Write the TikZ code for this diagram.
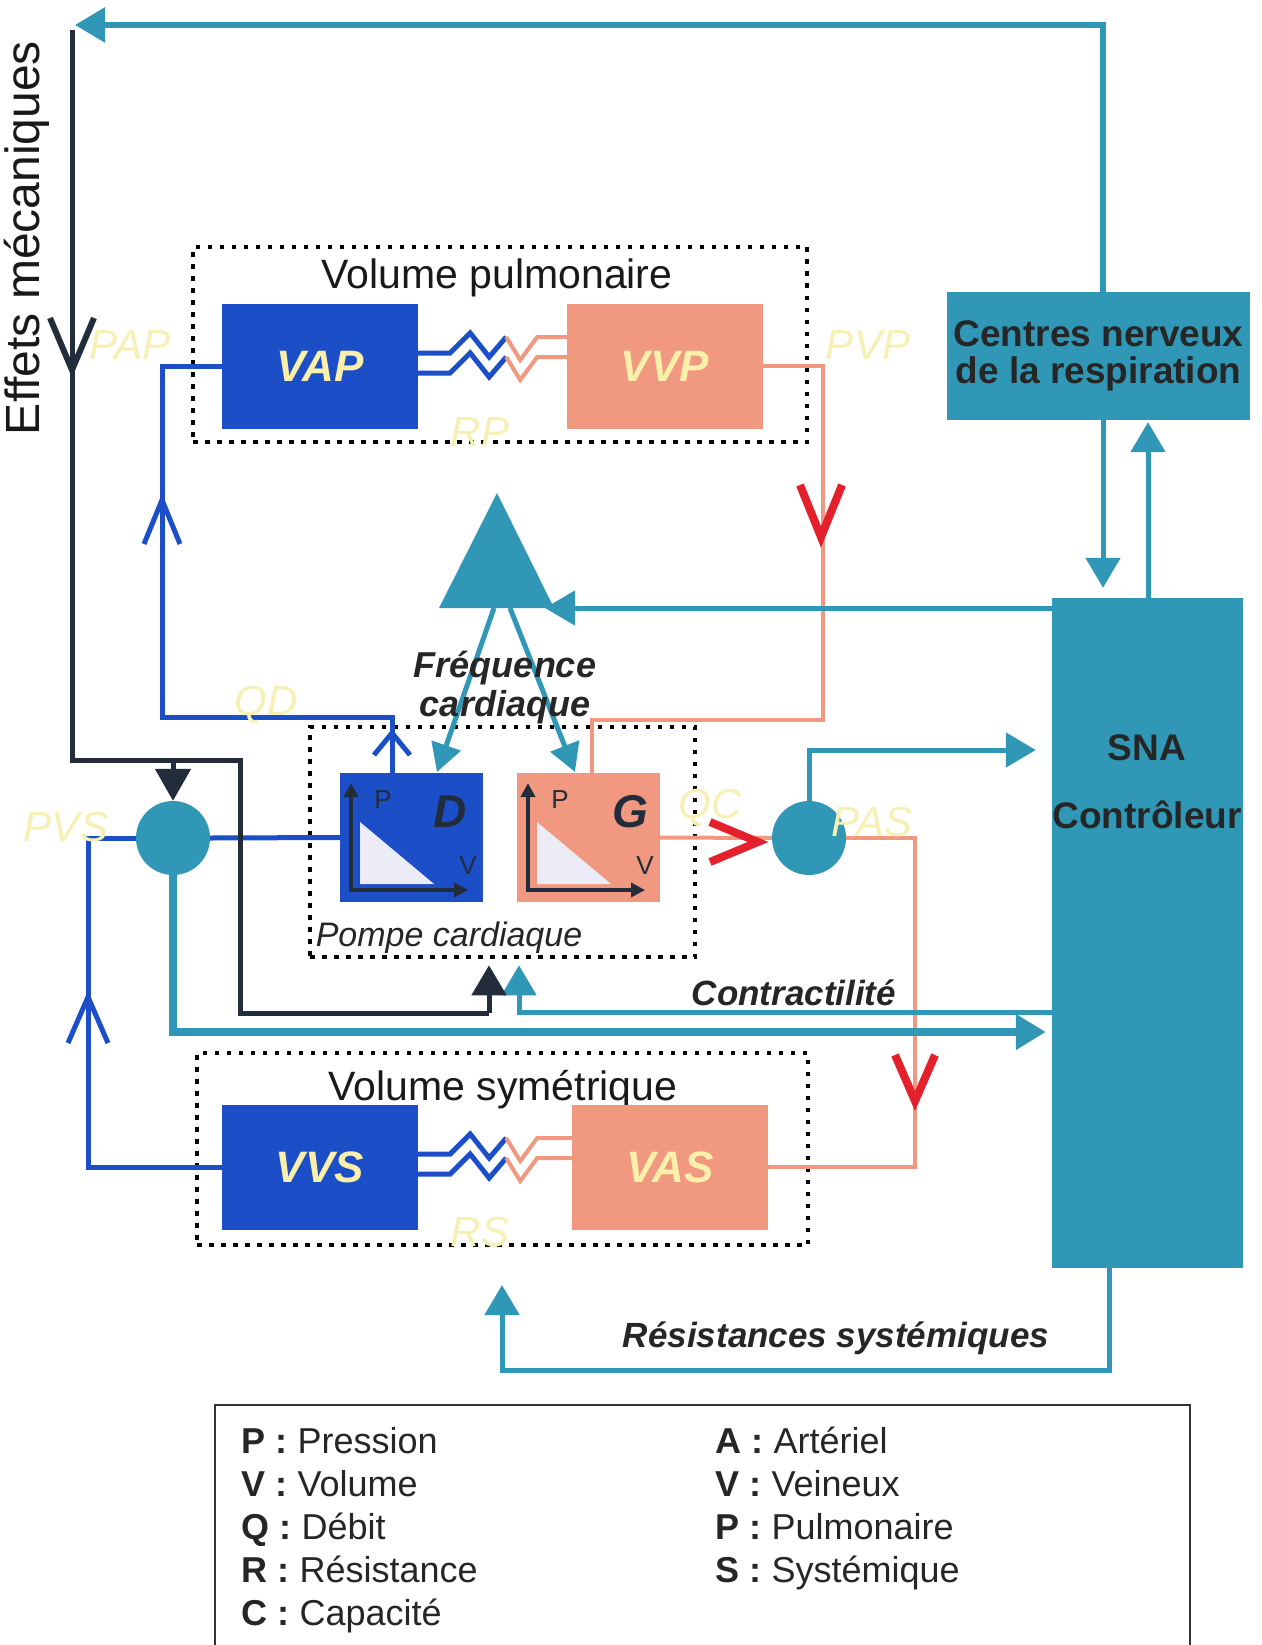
\documentclass[tikz,border=0pt]{standalone}
\usepackage{fontspec}
\setmainfont{Liberation Sans}
\usepackage{tikz}
\usetikzlibrary{arrows.meta,positioning,calc}

\definecolor{veinblue}{RGB}{28,78,200}
\definecolor{artsalmon}{RGB}{240,152,128}
\definecolor{nervecyan}{RGB}{48,152,182}
\definecolor{mechdark}{RGB}{34,44,58}
\definecolor{valvered}{RGB}{228,32,44}
\definecolor{palelabel}{RGB}{246,240,180}
\definecolor{boxtext}{RGB}{250,240,170}
\definecolor{pvwhite}{RGB}{236,236,246}

\newcommand{\fs}[1]{\fontsize{#1}{#1}\selectfont}
% open chevrons drawn on the pipes
\newcommand{\chevdown}[4]{\draw[#1] ($(#2)+(-#3,-#4)$) -- ($(#2)+(0,#4)$) -- ($(#2)+(#3,-#4)$);}
\newcommand{\chevup}[4]{\draw[#1] ($(#2)+(-#3,#4)$) -- ($(#2)+(0,-#4)$) -- ($(#2)+(#3,#4)$);}
\newcommand{\chevright}[4]{\draw[#1] ($(#2)+(-#4,-#3)$) -- ($(#2)+(#4,0)$) -- ($(#2)+(-#4,#3)$);}
% two zigzag resistances between a blue and a salmon box
\newcommand{\resistor}[3]{%
  \draw[bluepipe] ($(#1.east)+(0,#3)$) -- ++(32,0) -- ++(20,-20) -- ++(19,24) -- ++(17,-20) coordinate (zz);
  \draw[redpipe] (zz) -- ++(14,23) -- ++(17,-23) -- ($(#2.west)+(0,#3-16)$);}

\tikzset{
  volbox/.style={rectangle, inner sep=0pt, minimum width=196pt, minimum height=125pt,
    text=boxtext, font=\fs{44}\bfseries\itshape},
  pvbox/.style={rectangle, inner sep=0pt, minimum width=143pt, minimum height=129pt},
  dotbox/.style={draw=black, line width=4.5pt, dash pattern=on 4.5pt off 7.5pt, inner sep=0pt},
  nervebox/.style={rectangle, fill=nervecyan, inner sep=0pt},
  junction/.style={circle, fill=nervecyan, minimum size=74pt, inner sep=0pt},
  bluepipe/.style={draw=veinblue, line width=5pt},
  redpipe/.style={draw=artsalmon, line width=4pt},
  nerve/.style={draw=nervecyan, line width=5pt},
  mech/.style={draw=mechdark, line width=5pt},
  valve/.style={draw=valvered, line width=8pt, line join=miter},
  filltip/.style={-{Triangle[length=30pt,width=34pt]}},
  pvaxis/.style={draw=mechdark, line width=3.5pt,
    {Triangle[length=14pt,width=14pt]}-{Triangle[length=14pt,width=14pt]}},
  pale/.style={text=palelabel, font=\fs{42}\itshape},
  volcaption/.style={font=\fs{41}, text=black!90},
  remark/.style={font=\fs{35}\bfseries\itshape, text=black!85},
  ctrltext/.style={font=\fs{37}\bfseries, text=black!85},
  keyitem/.style={anchor=base west, font=\fs{36}, text=black!85},
}

\begin{document}
\begin{tikzpicture}[x=1pt, y=-1pt]
\useasboundingbox (0,0) rectangle (1261,1645);
\fill[white] (0,0) rectangle (1261,1645);

% Volume pulmonaire
\node[dotbox, minimum width=614pt, minimum height=195pt] (pulmo) at (500,344.5) {};
\node[volcaption] (pulmotitle) at (497,278) {Volume pulmonaire};
\node[volbox, fill=veinblue] (vap) at (320,366) {VAP};
\node[volbox, fill=artsalmon] (vvp) at (665,366) {VVP};
\resistor{vap}{vvp}{-13}
\resistor{vap}{vvp}{7}

% Volume symetrique
\node[dotbox, minimum width=611pt, minimum height=192pt] (syst) at (502.5,1149) {};
\node[volcaption] (systtitle) at (503,1090) {Volume symétrique};
\node[volbox, fill=veinblue] (vvs) at (320,1167) {VVS};
\node[volbox, fill=artsalmon] (vas) at (670,1167) {VAS};
\resistor{vvs}{vas}{-13}
\resistor{vvs}{vas}{7}

% Pompe cardiaque
\node[dotbox, minimum width=385pt, minimum height=230pt] (pompe) at (502.5,842) {};
\node[font=\fs{34}\itshape, text=black!85] (pompetitle) at (449,938) {Pompe cardiaque};
\node[pvbox, fill=veinblue] (d) at (411.5,837.5) {};
\node[pvbox, fill=artsalmon] (g) at (588.5,837.5) {};
% P-V diagrams
\fill[pvwhite] (360,822) -- (360,884) -- (434,884) -- cycle;
\draw[pvaxis] (351,783) -- (351,890) -- (468,890);
\node[font=\fs{26}, text=mechdark] (dp) at (383,800) {P};
\node[font=\fs{46}\bfseries\itshape, text=mechdark] (dname) at (450,812) {D};
\node[font=\fs{26}, text=mechdark] (dv) at (468,866) {V};
\fill[pvwhite] (537,822) -- (537,884) -- (611,884) -- cycle;
\draw[pvaxis] (528,783) -- (528,890) -- (645,890);
\node[font=\fs{26}, text=mechdark] (gp) at (560,800) {P};
\node[font=\fs{46}\bfseries\itshape, text=mechdark] (gname) at (630,812) {G};
\node[font=\fs{26}, text=mechdark] (gv) at (645,866) {V};

% Controleurs
\node[nervebox, minimum width=303pt, minimum height=128pt, align=center,
  font=\fs{37}\bfseries, text=black!85] (centres) at (1098.5,356) {Centres nerveux\\de la respiration};
\node[nervebox, minimum width=191pt, minimum height=670pt] (sna) at (1147.5,933) {};
\node[ctrltext] (snaname) at (1147,748) {SNA};
\node[ctrltext] (snarole) at (1147,815) {Contrôleur};

% Jonctions
\node[junction] (pvs) at (173,838) {};
\node[junction] (pas) at (809,838) {};

% Circulation veineuse (bleu)
\coordinate (qdturn) at (392,717);
\coordinate (qdcorner) at (162,717);
\coordinate (leftrail) at (88,1000);
\draw[bluepipe] (qdturn |- d.north) -- (qdturn) -- (qdcorner) -- (qdcorner |- vap.west) -- (vap.west);
\draw[bluepipe] (pvs.east) -- (d.west);
\draw[bluepipe] (vvs.west) -- (vvs.west -| leftrail) -- (leftrail |- pvs.west) -- (pvs.west);
\chevup{bluepipe}{162,522}{18}{22}
\chevup{bluepipe}{392,744}{18}{11}
\chevup{bluepipe}{88,1020}{20}{23}

% Circulation arterielle (saumon)
\coordinate (pvpturn) at (823,720);
\coordinate (gin) at (592,720);
\coordinate (rightrail) at (915,1000);
\draw[redpipe] (vvp.east) -- (vvp.east -| pvpturn) -- (pvpturn) -- (gin) -- (gin |- g.north);
\draw[redpipe] (g.east) -- (pas.west);
\draw[redpipe] (pas.east) -- (pas.east -| rightrail) -- (rightrail |- vas.east) -- (vas.east);
\chevdown{valve}{821,511}{21}{26}
\chevright{valve}{734,842}{20}{24}
\chevdown{valve}{915,1078}{20}{23}

% Frequence cardiaque
\coordinate (hrleft) at (494,608);
\coordinate (hrright) at (510,608);
\coordinate (dhit) at (437,772);
\coordinate (ghit) at (575,772);
\draw[nerve, filltip] (sna.west |- hrleft) -- (545,608);
\fill[nervecyan] (497,493) -- (439,608) -- (554,608) -- cycle;
\draw[nerve, -{Triangle[length=28pt,width=30pt]}] (hrleft) -- (dhit);
\draw[nerve, -{Triangle[length=28pt,width=30pt]}] (hrright) -- (ghit);
\node[remark, font=\fs{36}\bfseries\itshape, align=center] (freq) at (505,688) {Fréquence\\[3pt]cardiaque};

% SNA <-> centres respiratoires
\coordinate (cdown) at (1103,500);
\coordinate (cup) at (1148,500);
\coordinate (topright) at (1103,25);
\coordinate (topleft) at (75,25);
\draw[nerve, line width=6pt, filltip] (topright |- centres.north) -- (topright) -- (topleft);
\draw[nerve, filltip, shorten >=10pt] (cdown |- centres.south) -- (cdown |- sna.north);
\draw[nerve, filltip, shorten >=2pt] (cup |- sna.north) -- (cup |- centres.south);

% Capteurs de pression
\coordinate (pasout) at (809,750);
\coordinate (pvsout) at (173,1032);
\draw[nerve, filltip, shorten >=16pt] (pas.north) -- (pasout) -- (pasout -| sna.west);
\draw[nerve, line width=8pt, filltip, shorten >=6pt] (pvs.south) -- (pvsout) -- (pvsout -| sna.west);

% Contractilite
\coordinate (contr) at (519,1012);
\draw[nerve, filltip, shorten >=6pt] (contr -| sna.west) -- (contr) -- (contr |- pompe.south);
\node[remark] (contrtext) at (794,993) {Contractilité};

% Effets mecaniques
\coordinate (mechtop) at (72,30);
\coordinate (mechturn) at (72,760);
\coordinate (mechmid) at (240,760);
\coordinate (mechlow) at (240,1013);
\coordinate (mechup) at (489,1013);
\draw[mech] (mechtop) -- (mechturn) -- (mechmid) -- (mechlow) -- (mechup);
\draw[mech, filltip, shorten >=6pt] (mechup) -- (mechup |- pompe.south);
\draw[mech, -{Triangle[length=32pt,width=35pt]}] (pvs.north |- mechturn) -- (pvs.north);
\chevdown{mech, line width=6pt}{72,344}{22}{26}
\node[rotate=90, font=\fs{48}, text=black!90] (effets) at (27,238) {Effets mécaniques};

% Resistances systemiques
\coordinate (rsbottom) at (1109,1370);
\coordinate (rsleft) at (502,1370);
\coordinate (rstip) at (502,1285);
\draw[nerve, filltip] (rsbottom |- sna.south) -- (rsbottom) -- (rsleft) -- (rstip);
\node[remark] (rstext) at (836,1338) {Résistances systémiques};

% Etiquettes
\node[pale] (pap) at (130,345) {PAP};
\node[pale] (pvp) at (868,345) {PVP};
\node[pale] (rp) at (480,432) {RP};
\node[pale] (qd) at (266,705) {QD};
\node[pale] (pvslab) at (66,827) {PVS};
\node[pale] (qc) at (710,808) {QC};
\node[pale] (paslab) at (872,822) {PAS};
\node[pale] (rs) at (480,1232) {RS};

% Legende
\draw[line width=1.5pt, black!80] (215,1645) -- (215,1405) -- (1190,1405) -- (1190,1645);
\node[keyitem] (kp) at (238,1453) {\textbf{P :} Pression};
\node[keyitem] (kv) at (238,1496) {\textbf{V :} Volume};
\node[keyitem] (kq) at (238,1539) {\textbf{Q :} Débit};
\node[keyitem] (kr) at (238,1582) {\textbf{R :} Résistance};
\node[keyitem] (kc) at (238,1625) {\textbf{C :} Capacité};
\node[keyitem] (ka) at (712,1453) {\textbf{A :} Artériel};
\node[keyitem] (kve) at (712,1496) {\textbf{V :} Veineux};
\node[keyitem] (kpu) at (712,1539) {\textbf{P :} Pulmonaire};
\node[keyitem] (ks) at (712,1582) {\textbf{S :} Systémique};
\end{tikzpicture}
\end{document}
